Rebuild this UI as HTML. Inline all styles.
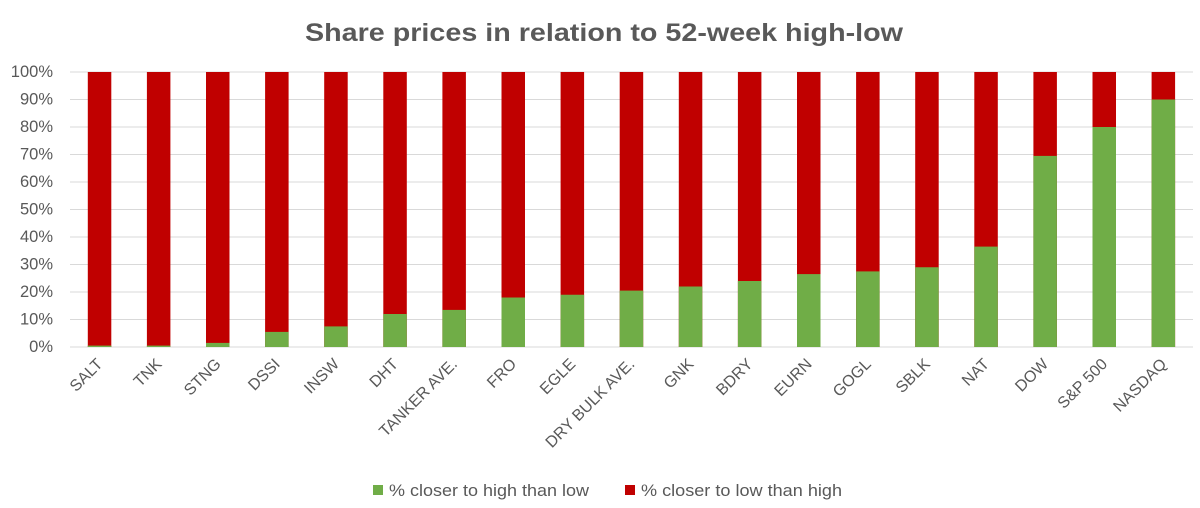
<!DOCTYPE html>
<html><head><meta charset="utf-8"><style>body{margin:0;background:#fff}svg{display:block}</style></head>
<body>
<svg width="1200" height="508" xmlns="http://www.w3.org/2000/svg" font-family="Liberation Sans, sans-serif">
<rect width="1200" height="508" fill="#fff"/>
<text x="305" y="41" font-size="25" font-weight="bold" fill="#595959" textLength="598" lengthAdjust="spacingAndGlyphs">Share prices in relation to 52-week high-low</text>
<g stroke="#d9d9d9" stroke-width="1">
<line x1="70" x2="1193" y1="72" y2="72"/><line x1="70" x2="1193" y1="99.5" y2="99.5"/><line x1="70" x2="1193" y1="127" y2="127"/><line x1="70" x2="1193" y1="154.5" y2="154.5"/><line x1="70" x2="1193" y1="182" y2="182"/><line x1="70" x2="1193" y1="209.5" y2="209.5"/><line x1="70" x2="1193" y1="237" y2="237"/><line x1="70" x2="1193" y1="264.5" y2="264.5"/><line x1="70" x2="1193" y1="292" y2="292"/><line x1="70" x2="1193" y1="319.5" y2="319.5"/><line x1="70" x2="1193" y1="347" y2="347"/>
</g>
<g font-size="16.5" fill="#595959" text-anchor="end">
<text x="53" y="77">100%</text><text x="53" y="104.5">90%</text><text x="53" y="132">80%</text><text x="53" y="159.5">70%</text><text x="53" y="187">60%</text><text x="53" y="214.5">50%</text><text x="53" y="242">40%</text><text x="53" y="269.5">30%</text><text x="53" y="297">20%</text><text x="53" y="324.5">10%</text><text x="53" y="352">0%</text>
</g>
<g fill="#c00000">
<rect x="87.8" y="72" width="23.5" height="275"/><rect x="146.9" y="72" width="23.5" height="275"/><rect x="206" y="72" width="23.5" height="275"/><rect x="265.1" y="72" width="23.5" height="275"/><rect x="324.2" y="72" width="23.5" height="275"/><rect x="383.3" y="72" width="23.5" height="275"/><rect x="442.4" y="72" width="23.5" height="275"/><rect x="501.5" y="72" width="23.5" height="275"/><rect x="560.6" y="72" width="23.5" height="275"/><rect x="619.7" y="72" width="23.5" height="275"/><rect x="678.8" y="72" width="23.5" height="275"/><rect x="737.9" y="72" width="23.5" height="275"/><rect x="797" y="72" width="23.5" height="275"/><rect x="856.1" y="72" width="23.5" height="275"/><rect x="915.2" y="72" width="23.5" height="275"/><rect x="974.3" y="72" width="23.5" height="275"/><rect x="1033.4" y="72" width="23.5" height="275"/><rect x="1092.5" y="72" width="23.5" height="275"/><rect x="1151.6" y="72" width="23.5" height="275"/>
</g>
<g fill="#70ad47">
<rect x="87.8" y="345.6" width="23.5" height="1.4"/><rect x="146.9" y="345.6" width="23.5" height="1.4"/><rect x="206" y="342.9" width="23.5" height="4.1"/><rect x="265.1" y="331.9" width="23.5" height="15.1"/><rect x="324.2" y="326.4" width="23.5" height="20.6"/><rect x="383.3" y="314" width="23.5" height="33"/><rect x="442.4" y="309.9" width="23.5" height="37.1"/><rect x="501.5" y="297.5" width="23.5" height="49.5"/><rect x="560.6" y="294.75" width="23.5" height="52.25"/><rect x="619.7" y="290.6" width="23.5" height="56.4"/><rect x="678.8" y="286.5" width="23.5" height="60.5"/><rect x="737.9" y="281" width="23.5" height="66"/><rect x="797" y="274.1" width="23.5" height="72.9"/><rect x="856.1" y="271.4" width="23.5" height="75.6"/><rect x="915.2" y="267.25" width="23.5" height="79.75"/><rect x="974.3" y="246.6" width="23.5" height="100.4"/><rect x="1033.4" y="155.9" width="23.5" height="191.1"/><rect x="1092.5" y="127" width="23.5" height="220"/><rect x="1151.6" y="99.5" width="23.5" height="247.5"/>
</g>
<g font-size="16" fill="#595959" text-anchor="end">
<text x="103.6" y="365" transform="rotate(-45 103.6 365)">SALT</text>
<text x="162.7" y="365" transform="rotate(-45 162.7 365)">TNK</text>
<text x="221.8" y="365" transform="rotate(-45 221.8 365)">STNG</text>
<text x="280.9" y="365" transform="rotate(-45 280.9 365)">DSSI</text>
<text x="340" y="365" transform="rotate(-45 340 365)">INSW</text>
<text x="399.1" y="365" transform="rotate(-45 399.1 365)">DHT</text>
<text x="458.2" y="365" transform="rotate(-45 458.2 365)">TANKER AVE.</text>
<text x="517.3" y="365" transform="rotate(-45 517.3 365)">FRO</text>
<text x="576.4" y="365" transform="rotate(-45 576.4 365)">EGLE</text>
<text x="635.5" y="365" transform="rotate(-45 635.5 365)">DRY BULK AVE.</text>
<text x="694.6" y="365" transform="rotate(-45 694.6 365)">GNK</text>
<text x="753.7" y="365" transform="rotate(-45 753.7 365)">BDRY</text>
<text x="812.8" y="365" transform="rotate(-45 812.8 365)">EURN</text>
<text x="871.9" y="365" transform="rotate(-45 871.9 365)">GOGL</text>
<text x="931" y="365" transform="rotate(-45 931 365)">SBLK</text>
<text x="990.1" y="365" transform="rotate(-45 990.1 365)">NAT</text>
<text x="1049.2" y="365" transform="rotate(-45 1049.2 365)">DOW</text>
<text x="1108.3" y="365" transform="rotate(-45 1108.3 365)">S&amp;P 500</text>
<text x="1167.4" y="365" transform="rotate(-45 1167.4 365)">NASDAQ</text>
</g>
<rect x="373" y="485" width="10" height="10" fill="#70ad47"/>
<text x="389" y="496" font-size="16.5" fill="#595959" textLength="200" lengthAdjust="spacingAndGlyphs">% closer to high than low</text>
<rect x="625" y="485" width="10" height="10" fill="#c00000"/>
<text x="641" y="496" font-size="16.5" fill="#595959" textLength="201" lengthAdjust="spacingAndGlyphs">% closer to low than high</text>
</svg>
</body></html>
